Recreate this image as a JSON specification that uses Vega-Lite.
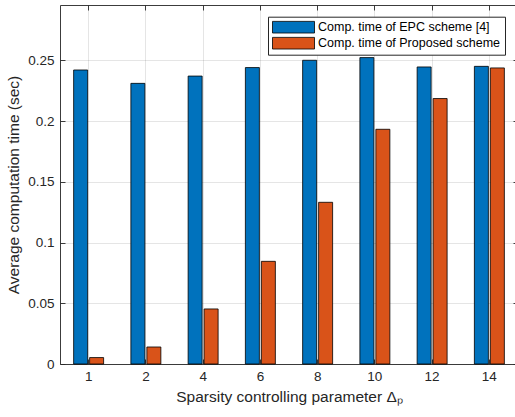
{
  "$schema": "https://vega.github.io/schema/vega-lite/v6.json",
  "autosize": {"type": "none"},
  "padding": {"left": 60, "top": 5, "right": 0, "bottom": 53},
  "width": 458,
  "height": 359,
  "background": "white",
  "data": {
    "values": [
      {"p": "1", "series": "Comp. time of EPC scheme [4]", "t": 0.242},
      {"p": "2", "series": "Comp. time of EPC scheme [4]", "t": 0.231},
      {"p": "4", "series": "Comp. time of EPC scheme [4]", "t": 0.237},
      {"p": "6", "series": "Comp. time of EPC scheme [4]", "t": 0.244},
      {"p": "8", "series": "Comp. time of EPC scheme [4]", "t": 0.250},
      {"p": "10", "series": "Comp. time of EPC scheme [4]", "t": 0.2522},
      {"p": "12", "series": "Comp. time of EPC scheme [4]", "t": 0.2445},
      {"p": "14", "series": "Comp. time of EPC scheme [4]", "t": 0.245},
      {"p": "1", "series": "Comp. time of Proposed scheme", "t": 0.0053},
      {"p": "2", "series": "Comp. time of Proposed scheme", "t": 0.014},
      {"p": "4", "series": "Comp. time of Proposed scheme", "t": 0.0453},
      {"p": "6", "series": "Comp. time of Proposed scheme", "t": 0.0845},
      {"p": "8", "series": "Comp. time of Proposed scheme", "t": 0.1331},
      {"p": "10", "series": "Comp. time of Proposed scheme", "t": 0.1932},
      {"p": "12", "series": "Comp. time of Proposed scheme", "t": 0.2185},
      {"p": "14", "series": "Comp. time of Proposed scheme", "t": 0.2437}
    ]
  },
  "config": {
    "view": {"stroke": null},
    "font": "Liberation Sans",
    "axis": {
      "domainColor": "#262626",
      "domainWidth": 0.9,
      "tickColor": "#262626",
      "tickSize": -5,
      "tickWidth": 0.9,
      "labelColor": "#262626",
      "labelFont": "Liberation Sans",
      "labelFontSize": 13.5,
      "titleFont": "Liberation Sans",
      "titleFontSize": 15.5,
      "titleFontWeight": "normal",
      "titleColor": "#262626",
      "gridColor": "#262626",
      "gridOpacity": 0.15,
      "gridWidth": 0.8
    },
    "legend": {
      "symbolType": "M-1,-0.97H6V0.97H-1Z",
      "symbolSize": 144,
      "symbolStrokeColor": "#000000",
      "symbolStrokeWidth": 0.8,
      "symbolOpacity": 1,
      "strokeColor": "#262626",
      "fillColor": "white",
      "padding": 4,
      "rowPadding": 1,
      "labelOffset": 33,
      "labelFont": "Liberation Sans",
      "labelFontSize": 12.5,
      "labelColor": "#000000",
      "labelLimit": 0,
      "cornerRadius": 0
    }
  },
  "layer": [
    {
      "mark": {"type": "bar", "stroke": "#000000", "strokeWidth": 0.8},
      "encoding": {
        "x": {
          "field": "p",
          "type": "ordinal",
          "sort": ["1", "2", "4", "6", "8", "10", "12", "14"],
          "scale": {"paddingInner": 0.476, "paddingOuter": 0.238},
          "title": "Sparsity controlling parameter Δₚ",
          "axis": {"labelAngle": 0, "bandPosition": 0.5, "grid": true, "labelPadding": 10, "titlePadding": 7}
        },
        "xOffset": {
          "field": "series",
          "type": "nominal",
          "sort": ["Comp. time of EPC scheme [4]", "Comp. time of Proposed scheme"],
          "scale": {"paddingInner": 0.125, "paddingOuter": 0}
        },
        "y": {
          "field": "t",
          "type": "quantitative",
          "scale": {"domain": [0, 0.2955], "nice": false, "zero": true},
          "title": "Average computation time (sec)",
          "axis": {"values": [0, 0.05, 0.1, 0.15, 0.2, 0.25], "format": "~g", "grid": true, "labelPadding": 11, "titlePadding": 6}
        },
        "color": {
          "field": "series",
          "type": "nominal",
          "sort": ["Comp. time of EPC scheme [4]", "Comp. time of Proposed scheme"],
          "scale": {"range": ["#0072BD", "#D95319"]},
          "legend": {"title": null, "orient": "none", "legendX": 208, "legendY": 11.7, "direction": "vertical"}
        }
      }
    },
    {
      "mark": {"type": "bar", "opacity": 0},
      "encoding": {
        "x": {
          "field": "p",
          "type": "ordinal",
          "sort": ["1", "2", "4", "6", "8", "10", "12", "14"],
          "axis": {"orient": "top", "labels": false, "title": null, "grid": false, "bandPosition": 0.5}
        },
        "xOffset": {
          "field": "series",
          "type": "nominal",
          "sort": ["Comp. time of EPC scheme [4]", "Comp. time of Proposed scheme"]
        },
        "y": {
          "field": "t",
          "type": "quantitative",
          "axis": {"orient": "right", "labels": false, "title": null, "grid": false, "values": [0, 0.05, 0.1, 0.15, 0.2, 0.25]}
        }
      }
    }
  ],
  "resolve": {"axis": {"x": "independent", "y": "independent"}}
}
